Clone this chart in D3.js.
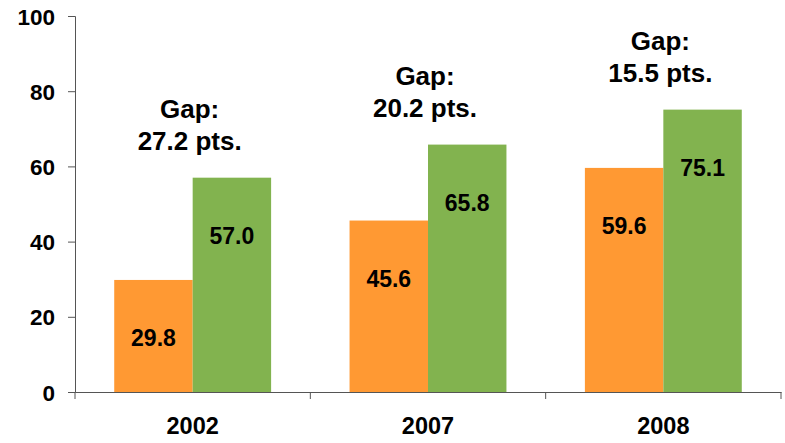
<!DOCTYPE html>
<html>
<head>
<meta charset="utf-8">
<script src="https://cdn.jsdelivr.net/npm/d3@7"></script>
<style>
  body { margin: 0; background: #fff; }
  text { font-family: Arial, "Liberation Sans", sans-serif; font-weight: bold; fill: #000; }
</style>
</head>
<body>
<div id="chart"></div>
<script>
// chart data
const years = ["2002", "2007", "2008"];
const orangeValues = [29.8, 45.6, 59.6];
const greenValues = [57.0, 65.8, 75.1];
const gapLabels = ["27.2 pts.", "20.2 pts.", "15.5 pts."];
const yTicks = [0, 20, 40, 60, 80, 100];

const width = 785;
const height = 443;
const plotLeft = 75, plotRight = 781, plotTop = 16, plotBottom = 392;

const svg = d3.select("#chart")
    .append("svg")
    .attr("width", width)
    .attr("height", height);

const x0 = d3.scaleBand()
    .domain(years)
    .range([plotLeft, plotRight])
    .padding(0);

// two bars sit in the middle two thirds of each category
const x1 = d3.scaleBand()
    .domain(["orange", "green"])
    .range([x0.bandwidth() / 6, x0.bandwidth() * 5 / 6]);

const y = d3.scaleLinear()
    .domain([0, 100])
    .range([plotBottom, plotTop]);

const color = { orange: "#FF9933", green: "#82B34F" };

const rows = years.map((yr, i) => ({
    year: yr,
    orange: orangeValues[i],
    green: greenValues[i],
    gap: gapLabels[i]
}));

// bars
const groups = svg.selectAll("g.year")
    .data(rows)
    .enter().append("g")
    .attr("class", "year")
    .attr("transform", d => `translate(${x0(d.year)},0)`);

groups.selectAll("rect")
    .data(d => ["orange", "green"].map(k => ({ key: k, value: d[k] })))
    .enter().append("rect")
    .attr("x", d => x1(d.key))
    .attr("y", d => y(d.value))
    .attr("width", x1.bandwidth())
    .attr("height", d => y(0) - y(d.value))
    .attr("fill", d => color[d.key]);

// value labels inside bars
groups.selectAll("text.val")
    .data(d => ["orange", "green"].map(k => ({ key: k, value: d[k] })))
    .enter().append("text")
    .attr("class", "val")
    .attr("x", d => x1(d.key) + x1.bandwidth() / 2)
    .attr("y", d => y(d.value) + 66)
    .attr("text-anchor", "middle")
    .style("font-size", "23px")
    .text(d => d.value.toFixed(1));

// gap annotations above each pair
const gapText = groups.append("text")
    .attr("text-anchor", "middle")
    .style("font-size", "26px")
    .attr("transform", d => `translate(${x0.bandwidth() / 2 - 3},${y(d.green) - 28})`);
gapText.append("tspan").attr("x", 0).attr("dy", -32).text("Gap:");
gapText.append("tspan").attr("x", 0).attr("dy", 32).text(d => d.gap);

// y axis
const yAxis = svg.append("g")
    .attr("transform", `translate(${plotLeft},0)`)
    .call(d3.axisLeft(y).tickValues(yTicks).tickSize(7).tickPadding(13));
yAxis.selectAll("text").style("font-size", "22.5px").attr("dy", "0.36em");

// x axis
const xAxis = svg.append("g")
    .attr("transform", `translate(0,${plotBottom})`)
    .call(d3.axisBottom(x0).tickSize(0).tickPadding(25));
xAxis.selectAll("text").style("font-size", "23.5px");

// category boundary ticks
xAxis.selectAll("line.sep")
    .data(years.map(d => x0(d)).concat([plotRight]))
    .enter().append("line")
    .attr("class", "sep")
    .attr("x1", d => d)
    .attr("x2", d => d)
    .attr("y1", 0)
    .attr("y2", 7)
    .attr("stroke", "#555");

svg.selectAll(".domain, .tick line").attr("stroke", "#555");
</script>
</body>
</html>
